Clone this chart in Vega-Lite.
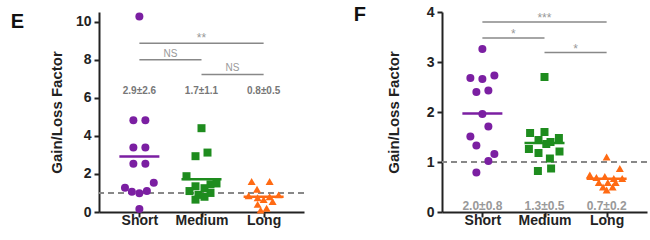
{
  "$schema": "https://vega.github.io/schema/vega-lite/v6.json",
  "padding": {"left": 10, "top": 5, "right": 5, "bottom": 4},
  "spacing": 48,
  "config": {
    "font": "Liberation Sans",
    "view": {"stroke": null},
    "axis": {"grid": false, "domainColor": "#222", "domainWidth": 2, "tickColor": "#222", "tickWidth": 2, "tickSize": 5, "labelFont": "Liberation Sans", "labelFontWeight": "bold", "labelColor": "#222", "titleFont": "Liberation Sans", "titleFontWeight": "bold", "titleColor": "#222", "labelFlush": false, "labelBound": false}
  },
  "datasets": {
    "pts": [
      {"p":"E","g":"Short","v":10.26,"s":0},{"p":"E","g":"Short","v":4.82,"s":-1},{"p":"E","g":"Short","v":4.82,"s":1},{"p":"E","g":"Short","v":3.39,"s":-1},{"p":"E","g":"Short","v":3.39,"s":1},{"p":"E","g":"Short","v":2.53,"s":-1},{"p":"E","g":"Short","v":2.53,"s":1},{"p":"E","g":"Short","v":1.54,"s":2.4},{"p":"E","g":"Short","v":1.27,"s":-2.4},{"p":"E","g":"Short","v":1.06,"s":-1.25},{"p":"E","g":"Short","v":0.98,"s":0},{"p":"E","g":"Short","v":1.1,"s":1.25},{"p":"E","g":"Short","v":0.16,"s":0},
      {"p":"E","g":"Medium","v":4.4,"s":0},{"p":"E","g":"Medium","v":3.12,"s":1},{"p":"E","g":"Medium","v":2.93,"s":-1},{"p":"E","g":"Medium","v":1.88,"s":-2.5},{"p":"E","g":"Medium","v":1.5,"s":2.5},{"p":"E","g":"Medium","v":1.45,"s":1.5},{"p":"E","g":"Medium","v":1.35,"s":-1},{"p":"E","g":"Medium","v":1.25,"s":0.5},{"p":"E","g":"Medium","v":1.1,"s":-2},{"p":"E","g":"Medium","v":1.0,"s":1.5},{"p":"E","g":"Medium","v":0.9,"s":-0.5},{"p":"E","g":"Medium","v":0.8,"s":0.5},{"p":"E","g":"Medium","v":0.65,"s":-1},
      {"p":"E","g":"Long","v":1.6,"s":-2},{"p":"E","g":"Long","v":1.6,"s":1},{"p":"E","g":"Long","v":1.19,"s":-1.1},{"p":"E","g":"Long","v":0.9,"s":2.5},{"p":"E","g":"Long","v":0.85,"s":-2.5},{"p":"E","g":"Long","v":0.8,"s":1},{"p":"E","g":"Long","v":0.75,"s":-1},{"p":"E","g":"Long","v":0.65,"s":0},{"p":"E","g":"Long","v":0.55,"s":1.5},{"p":"E","g":"Long","v":0.4,"s":-1},{"p":"E","g":"Long","v":0.2,"s":0.5},{"p":"E","g":"Long","v":0.1,"s":-0.5},
      {"p":"F","g":"Short","v":3.26,"s":0},{"p":"F","g":"Short","v":2.68,"s":-2},{"p":"F","g":"Short","v":2.66,"s":0},{"p":"F","g":"Short","v":2.73,"s":2},{"p":"F","g":"Short","v":2.4,"s":-1},{"p":"F","g":"Short","v":2.43,"s":1},{"p":"F","g":"Short","v":1.96,"s":0},{"p":"F","g":"Short","v":1.71,"s":1},{"p":"F","g":"Short","v":1.51,"s":-2},{"p":"F","g":"Short","v":1.33,"s":-1},{"p":"F","g":"Short","v":1.16,"s":2},{"p":"F","g":"Short","v":1.02,"s":1},{"p":"F","g":"Short","v":0.79,"s":-1},
      {"p":"F","g":"Medium","v":2.7,"s":0},{"p":"F","g":"Medium","v":1.6,"s":0},{"p":"F","g":"Medium","v":1.58,"s":-2.4},{"p":"F","g":"Medium","v":1.48,"s":2.4},{"p":"F","g":"Medium","v":1.44,"s":-1},{"p":"F","g":"Medium","v":1.4,"s":1},{"p":"F","g":"Medium","v":1.36,"s":0.3},{"p":"F","g":"Medium","v":1.26,"s":-2.6},{"p":"F","g":"Medium","v":1.21,"s":2.5},{"p":"F","g":"Medium","v":1.18,"s":-1},{"p":"F","g":"Medium","v":1.07,"s":0.9},{"p":"F","g":"Medium","v":0.87,"s":1.1},{"p":"F","g":"Medium","v":0.82,"s":-1.1},
      {"p":"F","g":"Long","v":1.1,"s":0},{"p":"F","g":"Long","v":0.87,"s":2.2},{"p":"F","g":"Long","v":0.74,"s":-2.8},{"p":"F","g":"Long","v":0.69,"s":-1.7},{"p":"F","g":"Long","v":0.71,"s":-0.3},{"p":"F","g":"Long","v":0.67,"s":1.2},{"p":"F","g":"Long","v":0.67,"s":2.6},{"p":"F","g":"Long","v":0.59,"s":-1.3},{"p":"F","g":"Long","v":0.59,"s":0.2},{"p":"F","g":"Long","v":0.59,"s":1.5},{"p":"F","g":"Long","v":0.5,"s":-0.6},{"p":"F","g":"Long","v":0.5,"s":1},{"p":"F","g":"Long","v":0.44,"s":0}
    ],
    "stats": [
      {"p":"E","g":"Short","t":"2.9±2.6"},{"p":"E","g":"Medium","t":"1.7±1.1"},{"p":"E","g":"Long","t":"0.8±0.5"},
      {"p":"F","g":"Short","t":"2.0±0.8"},{"p":"F","g":"Medium","t":"1.3±0.5"},{"p":"F","g":"Long","t":"0.7±0.2"}
    ],
    "br": [
      {"p":"E","a":"Short","b":"Long","lv":8.86,"t":"**","span":2},
      {"p":"E","a":"Short","b":"Medium","lv":7.99,"t":"NS","span":1},
      {"p":"E","a":"Medium","b":"Long","lv":7.22,"t":"NS","span":1},
      {"p":"F","a":"Short","b":"Long","lv":3.8,"t":"***","span":2},
      {"p":"F","a":"Short","b":"Medium","lv":3.48,"t":"*","span":1},
      {"p":"F","a":"Medium","b":"Long","lv":3.19,"t":"*","span":1}
    ]
  },
  "hconcat": [
    {
      "width": 205, "height": 200,
      "title": {"text": "E", "orient": "left", "anchor": "end", "angle": 0, "align": "right", "baseline": "top", "fontSize": 20, "fontWeight": "bold", "color": "#111", "offset": 12},
      "layer": [
        {"data": {"values": [{}]}, "mark": {"type": "rule", "stroke": "#888", "strokeWidth": 2, "strokeDash": [6, 4]},
         "encoding": {"y": {"datum": 1, "type": "quantitative", "scale": {"domain": [0, 10.5], "nice": false}, "axis": {"title": "Gain/Loss Factor", "tickCount": 6, "tickMinStep": 2, "labelOverlap": false, "labelFontSize": 14, "titleFontSize": 15, "titlePadding": 11, "labelPadding": 3}}}},
        {"data": {"name": "br"}, "transform": [{"filter": "datum.p === 'E'"}],
         "mark": {"type": "rule", "stroke": "#888", "strokeWidth": 1.5},
         "encoding": {"x": {"field": "a", "type": "nominal"},
                      "x2": {"field": "b"}, "y": {"field": "lv", "type": "quantitative"}}},
        {"data": {"name": "br"}, "transform": [{"filter": "datum.p === 'E' && datum.span === 1"}],
         "mark": {"type": "text", "baseline": "bottom", "dy": -1, "dx": 31, "fontSize": 10, "color": "#999"},
         "encoding": {"x": {"field": "a", "type": "nominal"}, "y": {"field": "lv", "type": "quantitative"}, "text": {"field": "t"}}},
        {"data": {"name": "br"}, "transform": [{"filter": "datum.p === 'E' && datum.span === 2"}],
         "mark": {"type": "text", "baseline": "bottom", "dy": 2, "dx": 62, "fontSize": 12, "color": "#999"},
         "encoding": {"x": {"field": "a", "type": "nominal"}, "y": {"field": "lv", "type": "quantitative"}, "text": {"field": "t"}}},
        {"data": {"name": "stats"}, "transform": [{"filter": "datum.p === 'E'"}],
         "mark": {"type": "text", "fontSize": 10, "fontWeight": "bold", "color": "#777"},
         "encoding": {"x": {"field": "g", "type": "nominal"}, "y": {"datum": 6.33, "type": "quantitative"}, "text": {"field": "t"}}},
        {"data": {"name": "pts"}, "transform": [{"filter": "datum.p === 'E'"}],
         "mark": {"type": "point", "filled": true, "opacity": 1, "size": 64},
         "encoding": {
           "x": {"field": "g", "type": "nominal", "scale": {"type": "point", "domain": ["Short","Medium","Long"], "padding": 0.65}, "axis": {"title": null, "labelAngle": 0, "labelAlign": "center", "labelFontSize": 14, "labelPadding": 3}},
           "xOffset": {"field": "s", "type": "quantitative", "scale": {"domain": [-5, 5], "range": [-30, 30]}},
           "y": {"field": "v", "type": "quantitative"},
           "color": {"field": "g", "type": "nominal", "scale": {"domain": ["Short","Medium","Long"], "range": ["#7B1FA2","#1E8C1E","#FF6A13"]}, "legend": null},
           "shape": {"field": "g", "type": "nominal", "scale": {"domain": ["Short","Medium","Long"], "range": ["circle","square","triangle-up"]}, "legend": null}
         }},
        {"data": {"name": "pts"}, "transform": [{"filter": "datum.p === 'E'"}],
         "mark": {"type": "tick", "thickness": 2.5, "size": 40, "orient": "horizontal"},
         "encoding": {
           "x": {"field": "g", "type": "nominal"},
           "y": {"aggregate": "mean", "field": "v", "type": "quantitative"},
           "color": {"field": "g", "type": "nominal", "legend": null}
         }}
      ]
    },
    {
      "width": 205, "height": 200,
      "title": {"text": "F", "orient": "left", "anchor": "end", "angle": 0, "align": "right", "baseline": "top", "fontSize": 20, "fontWeight": "bold", "color": "#111", "offset": 8},
      "layer": [
        {"data": {"values": [{}]}, "mark": {"type": "rule", "stroke": "#888", "strokeWidth": 2, "strokeDash": [6, 4]},
         "encoding": {"y": {"datum": 1, "type": "quantitative", "scale": {"domain": [0, 4], "nice": false}, "axis": {"title": "Gain/Loss Factor", "tickCount": 5, "tickMinStep": 1, "labelOverlap": false, "labelFontSize": 14, "titleFontSize": 15, "titlePadding": 25, "labelPadding": 3}}}},
        {"data": {"name": "br"}, "transform": [{"filter": "datum.p === 'F'"}],
         "mark": {"type": "rule", "stroke": "#888", "strokeWidth": 1.5},
         "encoding": {"x": {"field": "a", "type": "nominal"},
                      "x2": {"field": "b"}, "y": {"field": "lv", "type": "quantitative"}}},
        {"data": {"name": "br"}, "transform": [{"filter": "datum.p === 'F' && datum.span === 1"}],
         "mark": {"type": "text", "baseline": "bottom", "dy": 3, "dx": 31, "fontSize": 12, "color": "#999"},
         "encoding": {"x": {"field": "a", "type": "nominal"}, "y": {"field": "lv", "type": "quantitative"}, "text": {"field": "t"}}},
        {"data": {"name": "br"}, "transform": [{"filter": "datum.p === 'F' && datum.span === 2"}],
         "mark": {"type": "text", "baseline": "bottom", "dy": 3, "dx": 62, "fontSize": 12, "color": "#999"},
         "encoding": {"x": {"field": "a", "type": "nominal"}, "y": {"field": "lv", "type": "quantitative"}, "text": {"field": "t"}}},
        {"data": {"name": "stats"}, "transform": [{"filter": "datum.p === 'F'"}],
         "mark": {"type": "text", "fontSize": 12, "fontWeight": "bold", "color": "#999"},
         "encoding": {"x": {"field": "g", "type": "nominal"}, "y": {"datum": 0.13, "type": "quantitative"}, "text": {"field": "t"}}},
        {"data": {"name": "pts"}, "transform": [{"filter": "datum.p === 'F'"}],
         "mark": {"type": "point", "filled": true, "opacity": 1, "size": 64},
         "encoding": {
           "x": {"field": "g", "type": "nominal", "scale": {"type": "point", "domain": ["Short","Medium","Long"], "padding": 0.65}, "axis": {"title": null, "labelAngle": 0, "labelAlign": "center", "labelFontSize": 14, "labelPadding": 3}},
           "xOffset": {"field": "s", "type": "quantitative", "scale": {"domain": [-5, 5], "range": [-30, 30]}},
           "y": {"field": "v", "type": "quantitative"},
           "color": {"field": "g", "type": "nominal", "scale": {"domain": ["Short","Medium","Long"], "range": ["#7B1FA2","#1E8C1E","#FF6A13"]}, "legend": null},
           "shape": {"field": "g", "type": "nominal", "scale": {"domain": ["Short","Medium","Long"], "range": ["circle","square","triangle-up"]}, "legend": null}
         }},
        {"data": {"name": "pts"}, "transform": [{"filter": "datum.p === 'F'"}],
         "mark": {"type": "tick", "thickness": 2.5, "size": 40, "orient": "horizontal"},
         "encoding": {
           "x": {"field": "g", "type": "nominal"},
           "y": {"aggregate": "mean", "field": "v", "type": "quantitative"},
           "color": {"field": "g", "type": "nominal", "legend": null}
         }}
      ]
    }
  ]
}
